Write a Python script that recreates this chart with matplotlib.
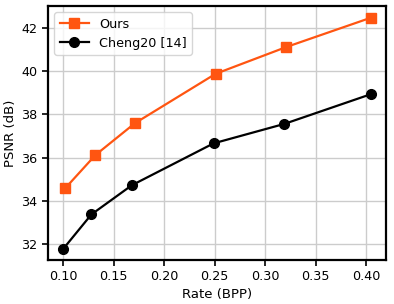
import matplotlib
matplotlib.use("Agg")
import matplotlib.pyplot as plt

# rate-distortion points
rate_ours = [0.102, 0.132, 0.171, 0.251, 0.321, 0.405]
psnr_ours = [34.58, 36.12, 37.59, 39.88, 41.12, 42.48]

rate_cheng = [0.100, 0.128, 0.168, 0.249, 0.319, 0.405]
psnr_cheng = [31.77, 33.37, 34.72, 36.66, 37.56, 38.94]

xticks = [0.10, 0.15, 0.20, 0.25, 0.30, 0.35, 0.40]
yticks = [32, 34, 36, 38, 40, 42]

fig = plt.figure(figsize=(3.94, 3.04), dpi=100)
ax = fig.add_axes([48 / 394, 1 - 260 / 304, 338 / 394, 254 / 304])

ax.plot(rate_ours, psnr_ours, marker="s", color="#ff5511", linewidth=1.6,
        markersize=7, label="Ours")
ax.plot(rate_cheng, psnr_cheng, marker="o", color="black", linewidth=1.6,
        markersize=7, label="Cheng20 [14]")

ax.set_xlim(0.085, 0.4198)
ax.set_ylim(31.26, 43.02)
ax.set_xticks(xticks)
ax.set_xticklabels([f"{t:.2f}" for t in xticks])
ax.set_yticks(yticks)
ax.tick_params(labelsize=9.2, length=4, width=1.2)
ax.set_xlabel("Rate (BPP)", fontsize=9.5, labelpad=3)
ax.set_ylabel("PSNR (dB)", fontsize=9.5, labelpad=3)
ax.grid(True, color="#cccccc", linewidth=1)
for s in ax.spines.values():
    s.set_linewidth(1.6)
ax.legend(loc="upper left", fontsize=9.2, handlelength=2.3)

fig.savefig("out.png", dpi=100)
